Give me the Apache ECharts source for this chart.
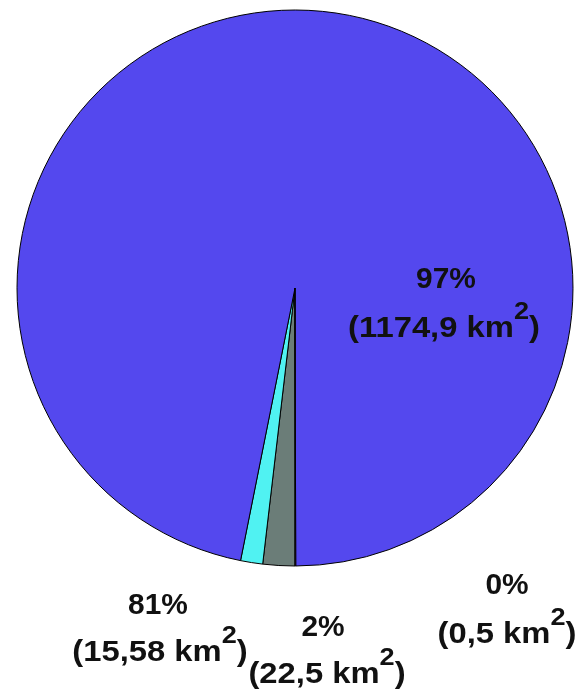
<!DOCTYPE html>
<html>
<head>
<meta charset="utf-8">
<script src="https://cdn.jsdelivr.net/npm/echarts@6/dist/echarts.min.js"></script>
<style>html,body{margin:0;padding:0;background:#fff;}#c{width:577px;height:692px;}</style>
</head>
<body>
<div id="c"></div>
<script>
var sliceNames = ['Slice A', 'Slice B', 'Slice C', 'Slice D'];
var sliceValues = [22.5, 15.58, 1174.9, 0.5];
var sliceColors = ['#6B7D78', '#50F2F2', '#5448EE', '#E070C0'];
var labelPercents = ['2%', '81%', '97%', '0%'];
var labelAreas = ['22,5', '15,58', '1174,9', '0,5'];
// [pct centre x, pct centre y, area centre x, area baseline y]
var labelPos = [[323, 628, 327, 685], [158, 606, 160, 663], [446, 280, 444, 339], [507, 586, 507, 645]];

var FONT = 'Liberation Sans, Arial';
var MAIN = 29, SUP = 24, SX = 1.13;
var ctx = document.createElement('canvas').getContext('2d');
function measure(t, size) { ctx.font = 'bold ' + size + 'px ' + FONT; return ctx.measureText(t).width; }

var chart = echarts.init(document.getElementById('c'), null, {renderer: 'canvas'});
var graphics = [];
for (var i = 0; i < sliceNames.length; i++) {
  var p = labelPos[i];
  graphics.push({
    type: 'text', x: p[0], y: p[1], z: 100, scaleX: 1.03,
    style: {text: labelPercents[i], fontFamily: FONT, fontWeight: 'bold', fontSize: MAIN,
      fill: '#111', align: 'center', verticalAlign: 'middle'}
  });
  var t1 = '(' + labelAreas[i] + ' km';
  var w1 = measure(t1, MAIN), w2 = measure('2', SUP), w3 = measure(')', MAIN);
  var x0 = p[2] - (w1 + w2 + w3) * SX / 2;
  var yMain = p[3] - 0.36 * MAIN;
  var ySup = p[3] - 18 - 0.36 * SUP;
  graphics.push({
    type: 'text', x: x0, y: yMain, z: 100, scaleX: SX,
    style: {text: t1, fontFamily: FONT, fontWeight: 'bold', fontSize: MAIN, fill: '#111', align: 'left', verticalAlign: 'middle'}
  });
  graphics.push({
    type: 'text', x: x0 + w1 * SX, y: ySup, z: 100, scaleX: SX,
    style: {text: '2', fontFamily: FONT, fontWeight: 'bold', fontSize: SUP, fill: '#111', align: 'left', verticalAlign: 'middle'}
  });
  graphics.push({
    type: 'text', x: x0 + (w1 + w2) * SX, y: yMain, z: 100, scaleX: SX,
    style: {text: ')', fontFamily: FONT, fontWeight: 'bold', fontSize: MAIN, fill: '#111', align: 'left', verticalAlign: 'middle'}
  });
}
chart.setOption({
  backgroundColor: '#fff',
  animation: false,
  series: [{
    type: 'pie',
    center: [295, 288],
    radius: 278,
    startAngle: 270,
    clockwise: true,
    minAngle: 0,
    avoidLabelOverlap: false,
    label: {show: false},
    labelLine: {show: false},
    itemStyle: {borderColor: '#000', borderWidth: 1},
    emphasis: {disabled: true},
    data: sliceNames.map(function (n, i) {
      return {name: n, value: sliceValues[i], itemStyle: {color: sliceColors[i]}};
    })
  }],
  graphic: graphics
});
</script>
</body>
</html>
